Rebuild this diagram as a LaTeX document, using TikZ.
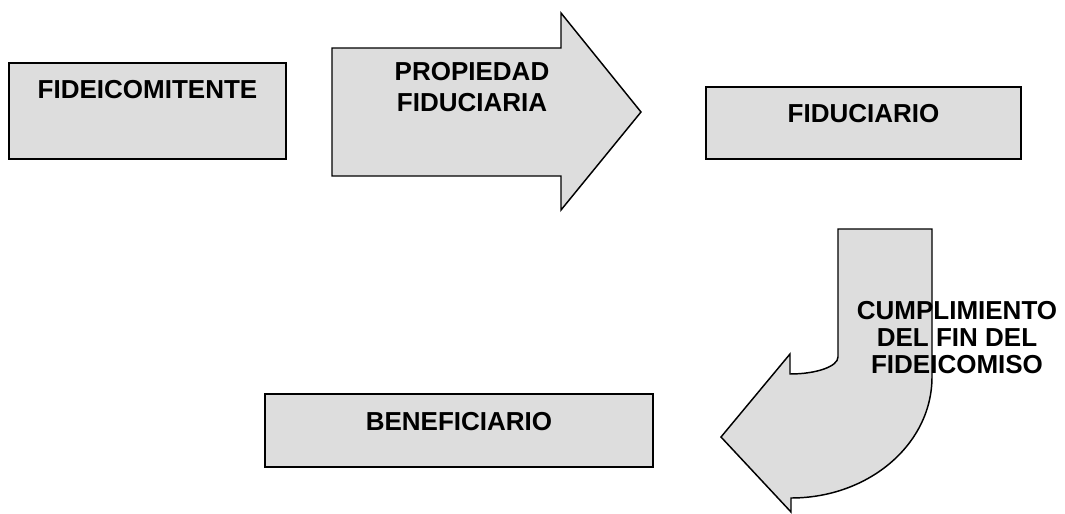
\documentclass[tikz,border=0pt]{standalone}
\usepackage{fontspec}
\setmainfont{Liberation Sans}
\usetikzlibrary{positioning}
\definecolor{shapegray}{HTML}{DDDDDD}

\begin{document}
\begin{tikzpicture}[x=0.75pt, y=-0.75pt,
    box/.style={draw=black, fill=shapegray, line width=1.5pt},
    bigarrow/.style={draw=black, fill=shapegray, line width=1.1pt, line join=miter},
    lbl/.style={font=\fontsize{19.5}{23.25}\selectfont\bfseries, align=center, inner sep=0pt}]
    \useasboundingbox (0,0) rectangle (1065,514);
    % Boxes
    \draw [box] (9, 63) rectangle (286, 159);
    \node [lbl] (fideicomitente) at (147.5, 90) {FIDEICOMITENTE};
    \draw [box] (706, 87) rectangle (1021, 159);
    \node [lbl] (fiduciario) at (863.5, 114) {FIDUCIARIO};
    \draw [box] (265, 394) rectangle (653, 467);
    \node [lbl] (beneficiario) at (459, 422) {BENEFICIARIO};
    % Straight arrow
    \draw [bigarrow] (332, 48) -- (561, 48) -- (561, 13) -- (641, 112)
        -- (561, 210) -- (561, 176) -- (332, 176) -- cycle;
    \node [lbl] (propiedad) at (472, 87.5) {PROPIEDAD\\FIDUCIARIA};
    % Curved arrow
    \draw [bigarrow] (838, 229) -- (932, 229) -- (932, 377)
        .. controls (932, 444) and (869, 498) .. (791, 498)
        -- (791, 512) -- (721, 437) -- (790, 354) -- (790, 374)
        .. controls (816.5, 374) and (838, 366.4) .. (838, 357) -- cycle;
    \node [lbl, font=\fontsize{19.5}{20}\selectfont\bfseries] (cumplimiento) at (957, 337.5)
        {CUMPLIMIENTO\\DEL FIN DEL\\FIDEICOMISO};
\end{tikzpicture}
\end{document}
